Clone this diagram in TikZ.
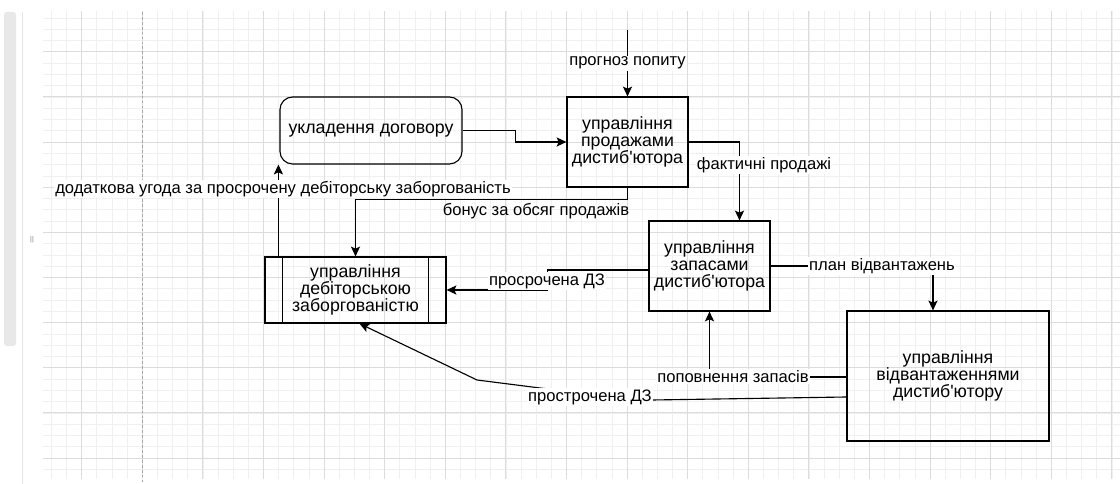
\documentclass[tikz,border=0pt]{standalone}
\usepackage{fontspec}
\setmainfont{Liberation Sans}
\usetikzlibrary{calc,arrows.meta}

\definecolor{gridmajor}{HTML}{DCDCDC}
\definecolor{gridminor}{HTML}{F0F0F0}
\newcommand{\boxfont}{\fontsize{12.6}{12}\selectfont}
\newcommand{\labelfont}{\fontsize{11.8}{12}\selectfont}
\newcommand{\apos}{\textquotesingle}

\tikzset{
  procbox/.style={draw, line width=0.8pt, align=center, inner sep=2pt, font=\boxfont},
  flow/.style={line width=0.8pt, -{Stealth[length=7pt,width=6.5pt,inset=1.5pt]}},
  flowlabel/.style={fill=white, inner sep=1pt, font=\labelfont},
}

\begin{document}
\begin{tikzpicture}[x=0.025cm, y=-0.025cm]
		%%%%% START %%%%%
		\useasboundingbox (0,0) rectangle (1120,484);
		\fill[white] (0,0) rectangle (1120,484);
		
		% canvas grid
		\begin{scope}
			\clip (43,12) rectangle (1120,479);
			\foreach \gx in {0,...,73} \draw[gridminor, line width=0.4pt] ({21+15.15*\gx},0) -- ++(0,484);
			\foreach \gy in {-4,...,38} \draw[gridminor, line width=0.4pt] (0,{51.7+11.285*\gy}) -- ++(1120,0);
			\foreach \gx in {0,...,18} \draw[gridmajor, line width=0.5pt] ({21+60.6*\gx},0) -- ++(0,484);
			\foreach \gy in {-1,...,9} \draw[gridmajor, line width=0.5pt] (0,{51.7+45.14*\gy}) -- ++(1120,0);
		\end{scope}
		\draw[gray!70, line width=0.5pt, dash pattern=on 2pt off 1.5pt] (142.5,12) -- (142.5,484);
		\fill[gray!18, rounded corners=2pt] (4,12) rectangle (16,346);
		\draw[gray!20, line width=0.4pt] (22,12) -- (22,484);
		\node[font=\tiny, text=gray] (sash) at (32,240) {||};
		
		% processes
		\node[procbox, rounded corners=9pt, minimum width=4.55cm, minimum height=1.675cm] (dogovir) at (371,130.5) {укладення договору};
		\node[procbox, minimum width=3.025cm, minimum height=2.25cm] (prodazh) at (627.5,142) {управління\\продажами\\дистиб\apos ютора};
		\node[procbox, minimum width=3.025cm, minimum height=2.25cm] (zapasy) at (709.5,266) {управління\\запасами\\дистиб\apos ютора};
		\node[procbox, minimum width=4.525cm, minimum height=1.65cm] (debit) at (355.5,290) {управління\\дебіторською\\заборгованістю};
		\draw[line width=0.8pt] ($(debit.north west)+(18,0)$) -- ($(debit.south west)+(18,0)$);
		\draw[line width=0.8pt] ($(debit.north east)+(-18,0)$) -- ($(debit.south east)+(-18,0)$);
		\node[procbox, minimum width=5.05cm, minimum height=3.25cm] (vidvant) at (948,376) {управління\\відвантаженнями\\дистиб\apos ютору};
		
		% flows
		\coordinate (forecastin) at (627.5,30);
		\draw[flow] (forecastin) -- (prodazh.north) node[flowlabel, midway] (lforecast) {прогноз попиту};
		
		\draw[flow] (dogovir.east) -- ++(53,0) |- (prodazh.west);
		
		\draw[flow] (prodazh.east) -| ($(zapasy.north)+(30,0)$);
		\node[flowlabel] (lfact) at (764,165) {фактичні продажі};
		
		\draw[flow] (prodazh.south) -- ++(0,12) -| (debit.north);
		\node[font=\labelfont] (lbonus) at (536,211) {бонус за обсяг продажів};
		
		\draw[flow] ($(zapasy.west)+(0,4)$) -- ++(-101,0) |- (debit.east);
		\node[flowlabel] (loverdue) at (547,281) {просрочена ДЗ};
		
		\draw[flow] (zapasy.east) -| ($(vidvant.north)+(-15,0)$);
		\node[flowlabel] (lplan) at (882,266) {план відвантажень};
		
		\draw[flow] ($(vidvant.west)+(0,1)$) -| (zapasy.south);
		\node[flowlabel] (lrefill) at (733,377) {поповнення запасів};
		
		\draw[flow] ($(vidvant.west)+(0,21)$) -- (652,400) -- (540,388) -- (477,380) -- ($(debit.south)+(4,0)$);
		\node[flowlabel] (loverdueb) at (590,397) {прострочена ДЗ};
		
		\coordinate (addfoot) at ($(debit.north west)+(14,0)$);
		\draw[flow] (addfoot) -- (addfoot |- dogovir.south);
		\node[flowlabel] (laddagr) at (283,189) {додаткова угода за просрочену дебіторську заборгованість};
		%%%%% END %%%%%
	\end{tikzpicture}
\end{document}
